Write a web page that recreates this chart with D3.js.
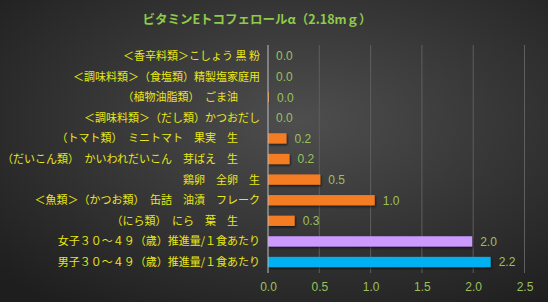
<!DOCTYPE html>
<html>
<head>
<meta charset="utf-8">
<script src="https://cdn.jsdelivr.net/npm/d3@7/dist/d3.min.js"></script>
<style>
  body { margin: 0; background: #000; }
  svg { display: block; }
</style>
</head>
<body>
<div id="chart"></div>
<script>
var width = 548;
var height = 302;

var chartTitle = "ビタミンEトコフェロールα（2.18mｇ）";
var categories = [
  "＜香辛料類＞こしょう 黒 粉",
  "＜調味料類＞（食塩類）精製塩家庭用",
  "（植物油脂類）　ごま油　　",
  "＜調味料類＞（だし類）かつおだし",
  "（トマト類）　ミニトマト　果実　生　　",
  "（だいこん類）　かいわれだいこん　芽ばえ　生　　",
  "鶏卵　全卵　生",
  "＜魚類＞（かつお類）　缶詰　油漬　フレーク",
  "（にら類）　にら　葉　生　　",
  "女子３０～４９（歳）推進量/１食あたり",
  "男子３０～４９（歳）推進量/１食あたり"
];
var values = [0.0, 0.0, 0.01, 0.0, 0.18, 0.21, 0.51, 1.04, 0.26, 1.99, 2.17];
var valueLabels = ["0.0", "0.0", "0.0", "0.0", "0.2", "0.2", "0.5", "1.0", "0.3", "2.0", "2.2"];
var barColors = ["#f47b20", "#f47b20", "#f47b20", "#f47b20", "#f47b20", "#f47b20", "#f47b20", "#f47b20", "#f47b20", "#cc99ff", "#00b0f0"];
var xTicks = [0, 0.5, 1.0, 1.5, 2.0, 2.5];

var svg = d3.select("#chart").append("svg")
  .attr("width", width)
  .attr("height", height);

var defs = svg.append("defs");
var grad = defs.append("radialGradient")
  .attr("id", "bg")
  .attr("cx", "55%").attr("cy", "40%").attr("r", "75%");
grad.append("stop").attr("offset", "0%").attr("stop-color", "#4e4e4e");
grad.append("stop").attr("offset", "100%").attr("stop-color", "#1e1e1e");

var shadow = defs.append("filter").attr("id", "shadow")
  .attr("x", "-5%").attr("y", "-20%").attr("width", "115%").attr("height", "160%");
shadow.append("feDropShadow")
  .attr("dx", 1).attr("dy", 1.5).attr("stdDeviation", 0.8)
  .attr("flood-color", "#000").attr("flood-opacity", 0.6);

svg.append("rect")
  .attr("width", width)
  .attr("height", height)
  .attr("fill", "url(#bg)");

var x = d3.scaleLinear().domain([0, 2.5]).range([268, 524.5]);
var y = d3.scaleBand().domain(categories).range([45.7, 272.3])
  .paddingInner(0.5).paddingOuter(0.25);

// title
svg.append("text")
  .attr("x", 257)
  .attr("y", 24)
  .attr("text-anchor", "middle")
  .attr("fill", "#8fca4a")
  .attr("font-family", "'Noto Sans CJK JP', sans-serif")
  .attr("font-size", 12.5)
  .attr("font-weight", "bold")
  .text(chartTitle);

// gridlines
svg.append("g").selectAll("line")
  .data(xTicks.slice(1))
  .enter().append("line")
  .attr("x1", function(d) { return x(d); })
  .attr("x2", function(d) { return x(d); })
  .attr("y1", 45)
  .attr("y2", 273)
  .attr("stroke", "#5e5e5e")
  .attr("stroke-width", 1);

// bars
svg.append("g").selectAll("rect")
  .data(values)
  .enter().append("rect")
  .attr("x", x(0))
  .attr("y", function(d, i) { return y(categories[i]); })
  .attr("width", function(d) { return x(d) - x(0); })
  .attr("height", y.bandwidth())
  .attr("fill", function(d, i) { return barColors[i]; })
  .attr("filter", "url(#shadow)");

// vertical axis line
svg.append("line")
  .attr("x1", x(0)).attr("x2", x(0))
  .attr("y1", 45).attr("y2", 273)
  .attr("stroke", "#bfbfbf")
  .attr("stroke-width", 1);

// category labels
svg.append("g").selectAll("text")
  .data(categories)
  .enter().append("text")
  .attr("x", 260)
  .attr("y", function(d) { return y(d) + y.bandwidth() / 2; })
  .attr("dy", "0.36em")
  .attr("text-anchor", "end")
  .attr("fill", "#e8e817")
  .attr("font-family", "'Noto Sans CJK JP', sans-serif")
  .attr("font-size", 11)
  .style("white-space", "pre")
  .text(function(d) { return d; });

// value labels
svg.append("g").selectAll("text")
  .data(values)
  .enter().append("text")
  .attr("x", function(d) { return x(d) + 8; })
  .attr("y", function(d, i) { return y(categories[i]) + y.bandwidth() / 2; })
  .attr("dy", "0.36em")
  .attr("fill", "#9bc05a")
  .attr("font-family", "'Liberation Sans', sans-serif")
  .attr("font-size", 12)
  .text(function(d, i) { return valueLabels[i]; });

// x axis
var xAxis = d3.axisBottom(x).tickValues(xTicks).tickSize(0).tickFormat(d3.format(".1f"));
var gx = svg.append("g")
  .attr("transform", "translate(0,279)")
  .call(xAxis);
gx.select(".domain").remove();
gx.selectAll("text")
  .attr("fill", "#9bc05a")
  .attr("font-family", "'Liberation Sans', sans-serif")
  .attr("font-size", 12);
</script>
</body>
</html>
